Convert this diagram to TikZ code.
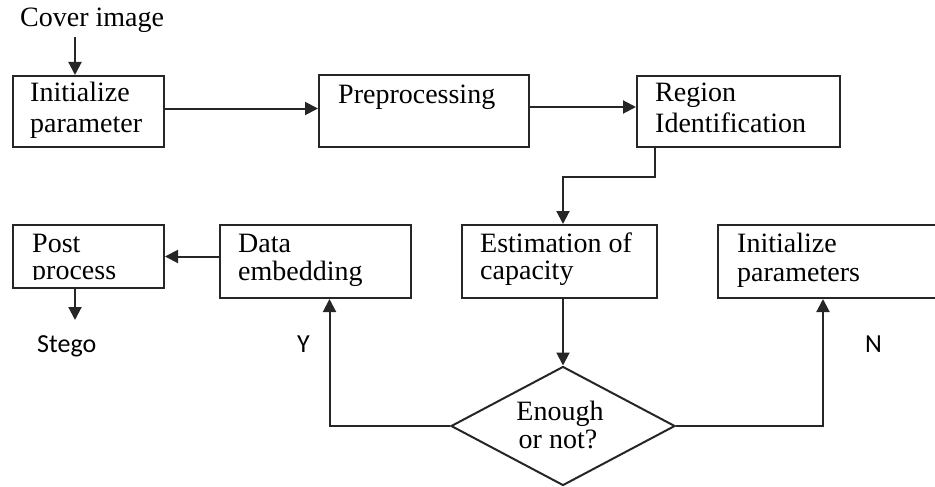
\documentclass[tikz,border=0pt]{standalone}
\usepackage{fontspec}
\setmainfont{Liberation Serif}
\newfontfamily\labelsans{Carlito}
\usetikzlibrary{shapes.geometric,arrows.meta}
\tikzset{
  box/.style={draw=black!85, line width=2pt, rectangle, inner sep=0pt, anchor=north west},
  decide/.style={draw=black!85, line width=2pt, diamond, inner sep=0pt},
  txt/.style={inner sep=0pt, anchor=base west, font=\fontsize{28}{30}\selectfont},
  ctxt/.style={inner sep=0pt, anchor=base, font=\fontsize{28}{30}\selectfont},
  sans/.style={inner sep=0pt, anchor=base west, font=\labelsans\fontsize{26}{28}\selectfont},
  link/.style={draw=black!85, line width=2pt},
  arr/.style={link, -{Triangle[length=13pt,width=13pt]}},
}
\begin{document}
\begin{tikzpicture}[x=1pt,y=-1pt]
\useasboundingbox (0,0) rectangle (935,487);
\clip (0,0) rectangle (935,487);

% process boxes
\node[box, minimum width=151pt, minimum height=71pt] (ib)   at (12,75)  {};
\node[box, minimum width=210pt, minimum height=72pt] (pre)  at (318,74) {};
\node[box, minimum width=203pt, minimum height=71pt] (reg)  at (636,75) {};
\node[box, minimum width=195pt, minimum height=73pt] (est)  at (461,224) {};
\node[box, minimum width=240pt, minimum height=73pt] (ip)   at (717,224) {};
\node[box, minimum width=191pt, minimum height=73pt] (emb)  at (219,224) {};
\node[box, minimum width=151pt, minimum height=63pt] (post) at (12,224) {};
\node[decide, minimum width=224pt, minimum height=119pt] (dec) at (563,426) {};

% texts
\node[txt] (cover) at (20,27) {Cover image};
\node[txt] (ib1) at (30,102) {Initialize};
\node[txt] (ib2) at (30,132) {parameter};
\node[txt] (pre1) at (338,103) {Preprocessing};
\node[txt] (reg1) at (655,102) {Region};
\node[txt] (reg2) at (655,132) {Identification};
\node[txt] (est1) at (480,252) {Estimation of};
\node[txt] (est2) at (480,279) {capacity};
\node[txt] (ip1) at (737,252) {Initialize};
\node[txt] (ip2) at (737,281) {parameters};
\node[txt] (emb1) at (238,252) {Data};
\node[txt] (emb2) at (238,280) {embedding};
\node[txt] (post1) at (32,252) {Post};
\begin{scope}
  \clip (0,262) rectangle (170,279.5);
  \node[txt] (post2) at (32,279) {process};
\end{scope}
\node[ctxt] (dec1) at (560,420) {Enough};
\node[ctxt] (dec2) at (558,448) {or not?};
\node[sans] (stego) at (37,352) {Stego};
\node[sans] (yes) at (297,352) {Y};
\node[sans] (no) at (865,352) {N};

% connectors
\draw[arr] ([xshift=63pt]ib.north west |- cover.south) ++(0,4) -- ([xshift=63pt]ib.north west);
\draw[arr] ([yshift=3pt]ib.east) -- ([yshift=3pt]ib.east -| pre.west);
\draw[arr] ([yshift=4pt]pre.east) -- ([yshift=4pt]pre.east -| reg.west);
\coordinate (bend) at (655,177);
\draw[arr] ([xshift=19pt]reg.south west) -- (bend) -- (bend -| dec.north) -- (dec.north |- est.north);
\draw[arr] (dec.north |- est.south) -- (dec.north);
\draw[arr] (dec.west) -- ([xshift=14pt]dec.west -| emb.south) -- ([xshift=14pt]emb.south);
\draw[arr] (dec.east) -- ([xshift=106pt]dec.east -| ip.south west) -- ([xshift=106pt]ip.south west);
\draw[arr] (emb.west |- post.east) -- (post.east);
\draw[arr] ([xshift=63pt]post.south west) -- ([xshift=63pt,yshift=-31pt]post.south west);
\end{tikzpicture}
\end{document}
